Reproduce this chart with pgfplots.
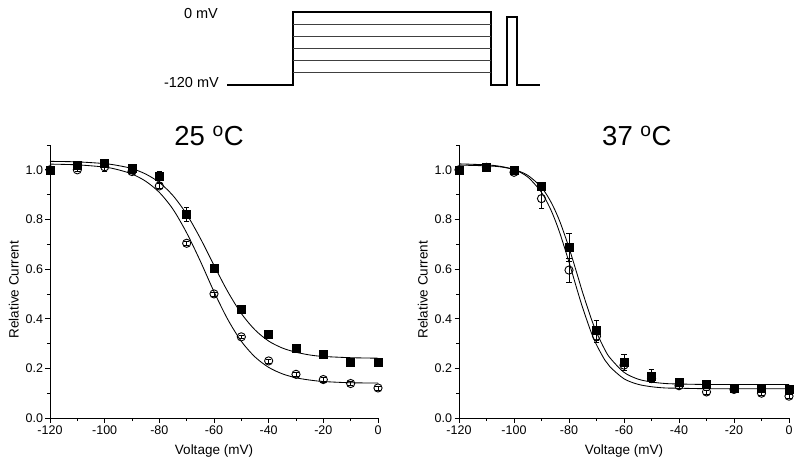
\documentclass[border=0pt]{standalone}
\usepackage{fontspec}
\setmainfont{Liberation Sans}
\usepackage{pgfplots}
\usepackage{pgfplotstable}
\pgfplotsset{compat=1.18}

% ---- data: x, y, error ----
\pgfplotstableread{
x y e
-120 1.000 0
-110 1.020 0.005
-100 1.028 0.010
-90 1.008 0.010
-80 0.973 0.022
-70 0.820 0.027
-60 0.603 0.010
-50 0.437 0.012
-40 0.337 0.012
-30 0.282 0.008
-20 0.256 0.015
-10 0.226 0.006
0 0.226 0.008
}\LeftSq
\pgfplotstableread{
x y e
-120 1.000 0
-110 1.000 0.005
-100 1.012 0.018
-90 0.993 0.008
-80 0.935 0.010
-70 0.704 0.008
-60 0.500 0.008
-50 0.327 0.008
-40 0.230 0.008
-30 0.176 0.008
-20 0.155 0.010
-10 0.139 0.008
0 0.121 0.008
}\LeftCi
\pgfplotstableread{
x y e
-120 1.000 0
-110 1.012 0.010
-100 0.997 0.010
-90 0.933 0.015
-80 0.687 0.055
-70 0.352 0.040
-60 0.225 0.032
-50 0.170 0.025
-40 0.145 0.010
-30 0.136 0.010
-20 0.122 0.010
-10 0.122 0.010
0 0.115 0.010
}\RightSq
\pgfplotstableread{
x y e
-120 1.000 0
-110 1.010 0.005
-100 0.990 0.008
-90 0.884 0.040
-80 0.596 0.048
-70 0.330 0.025
-60 0.213 0.020
-50 0.159 0.010
-40 0.130 0.010
-30 0.105 0.008
-20 0.115 0.008
-10 0.100 0.008
0 0.088 0.008
}\RightCi
% ---- fitted curves ----
\pgfplotstableread{
x y
-120 1.034
-110 1.032
-100 1.025
-95 1.017
-90 1.005
-85 0.983
-80 0.949
-75 0.896
-70 0.821
-65 0.724
-60 0.615
-55 0.510
-50 0.421
-45 0.355
-40 0.310
-35 0.282
-30 0.265
-25 0.254
-20 0.248
-10 0.243
0 0.241
}\LeftSqFit
\pgfplotstableread{
x y
-120 1.023
-110 1.020
-100 1.011
-95 1.000
-90 0.983
-85 0.954
-80 0.909
-75 0.841
-70 0.746
-65 0.632
-60 0.509
-55 0.398
-50 0.309
-45 0.246
-40 0.204
-35 0.178
-30 0.162
-25 0.153
-20 0.147
-10 0.142
0 0.141
}\LeftCiFit
\pgfplotstableread{
x y
-120 1.019
-110 1.016
-105 1.012
-100 1.001
-95 0.978
-90 0.929
-87 0.879
-85 0.835
-83 0.782
-80 0.686
-77 0.578
-75 0.504
-72 0.403
-70 0.345
-67 0.276
-65 0.241
-60 0.184
-55 0.157
-50 0.145
-45 0.139
-40 0.137
-30 0.135
-20 0.135
0 0.135
}\RightSqFit
\pgfplotstableread{
x y
-120 1.024
-110 1.020
-105 1.014
-100 1.001
-95 0.971
-90 0.909
-87 0.848
-85 0.796
-83 0.734
-80 0.628
-77 0.515
-75 0.443
-72 0.347
-70 0.295
-67 0.234
-65 0.205
-60 0.158
-55 0.136
-50 0.126
-45 0.121
-40 0.120
-30 0.118
-20 0.118
0 0.118
}\RightCiFit

\pgfplotsset{
  ivplot/.style={
    scale only axis,
    height=273pt,
    axis x line*=bottom,
    axis y line*=left,
    axis line style={-, line width=0.9pt},
    xmin=-120, xmax=0, ymin=0, ymax=1.1,
    xtick={-120,-100,...,0},
    minor xtick={-110,-90,...,-10},
    ytick={0,0.2,0.4,0.6,0.8,1.0},
    minor ytick={0.1,0.3,0.5,0.7,0.9,1.1},
    yticklabel style={/pgf/number format/fixed,
      /pgf/number format/fixed zerofill,
      /pgf/number format/precision=1},
    /pgf/number format/assume math mode=true,
    tick align=outside,
    major tick length=4.5pt,
    minor tick length=3pt,
    every tick/.style={black, line width=0.8pt},
    ticklabel style={font=\fontsize{12.5}{14}\selectfont},
    yticklabel style={xshift=1pt},
    xlabel={Voltage (mV)},
    ylabel={Relative Current},
    label style={font=\fontsize{13.5}{15}\selectfont},
    xlabel style={yshift=-3pt},
    ylabel style={at={(ticklabel cs:0.47)}, yshift=0pt},
    clip=false,
    title style={font=\fontsize{27.5}{32}\selectfont, anchor=base, yshift=-7pt},
  },
  fitline/.style={black, line width=0.85pt, smooth, no marks},
  sqmark/.style={only marks, mark=square*, mark size=4pt,
    mark options={fill=black, draw=black},
    error bars/.cd, y dir=both, y explicit,
    error bar style={black, line width=0.7pt},
    error mark options={rotate=90, mark size=2.8pt, black, line width=0.7pt}},
  cimark/.style={only marks, mark=o, mark size=4.1pt,
    mark options={fill=white, draw=black, line width=0.9pt},
    error bars/.cd, y dir=both, y explicit,
    error bar style={black, line width=0.7pt},
    error mark options={rotate=90, mark size=2.8pt, black, line width=0.7pt}},
}

\begin{document}
\begin{tikzpicture}
\useasboundingbox (0,0) rectangle (800pt,463pt);

% ---- voltage protocol (pixel frame) ----
\begin{axis}[at={(0pt,0pt)}, anchor=south west, scale only axis,
  width=800pt, height=463pt, xmin=0, xmax=800, ymin=0, ymax=463,
  y dir=reverse, hide axis, clip=false]
\addplot[black, line width=1.1pt, no marks] coordinates {
  (227,85) (293,85) (293,12) (491,12) (491,85) (507,85) (507,17) (517,17) (517,85) (540,85)};
\addplot[black!75, line width=0.9pt, no marks] coordinates {(293,24) (491,24)};
\addplot[black!75, line width=0.9pt, no marks] coordinates {(293,36) (491,36)};
\addplot[black!75, line width=0.9pt, no marks] coordinates {(293,48) (491,48)};
\addplot[black!75, line width=0.9pt, no marks] coordinates {(293,60.5) (491,60.5)};
\addplot[black!75, line width=0.9pt, no marks] coordinates {(293,72.5) (491,72.5)};
\node[anchor=base, font=\fontsize{14.5}{16}\selectfont, inner sep=0pt] at (axis cs:201,18.3) {0 mV};
\node[anchor=base east, font=\fontsize{14.5}{16}\selectfont, inner sep=0pt] at (axis cs:219,88) {-120 mV};
\end{axis}

% ---- 25 C ----
\begin{axis}[ivplot, at={(50pt,45pt)}, anchor=south west, width=328pt,
  title={25 \textsuperscript{o}C}, title style={at={(0.485,1)}}]
\addplot[fitline] table[x=x,y=y] {\LeftSqFit};
\addplot[fitline] table[x=x,y=y] {\LeftCiFit};
\addplot[cimark] table[x=x,y=y,y error=e] {\LeftCi};
\addplot[sqmark] table[x=x,y=y,y error=e] {\LeftSq};
\end{axis}

% ---- 37 C ----
\begin{axis}[ivplot, at={(459pt,45pt)}, anchor=south west, width=330pt,
  title={37 \textsuperscript{o}C}, title style={at={(0.539,1)}}]
\addplot[fitline] table[x=x,y=y] {\RightSqFit};
\addplot[fitline] table[x=x,y=y] {\RightCiFit};
\addplot[cimark] table[x=x,y=y,y error=e] {\RightCi};
\addplot[sqmark] table[x=x,y=y,y error=e] {\RightSq};
\end{axis}
\end{tikzpicture}
\end{document}
